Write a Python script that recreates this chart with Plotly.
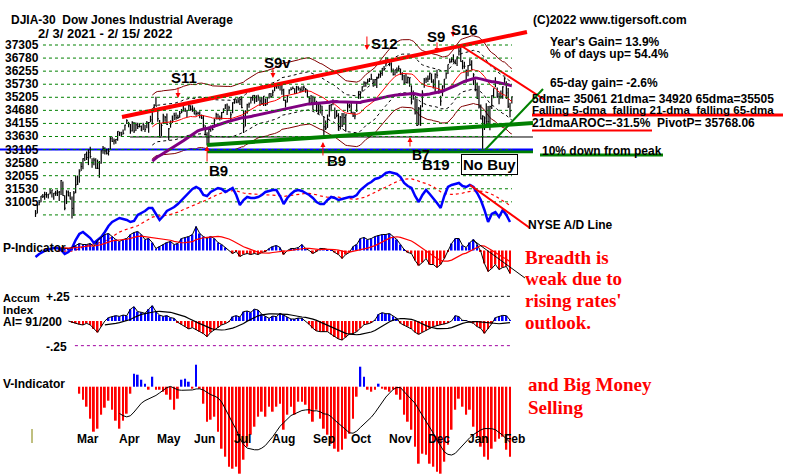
import pandas as pd
import plotly.graph_objects as go

W, H = 800, 475
SANS = "Liberation Sans"
SERIF = "Liberation Serif"

# ---- DJIA daily bars, 2/3/2021 .. 2/15/2022 (trading-day order) ----
CLOSE = [
    30724, 31056, 31148, 31386, 31376, 31438, 31431, 31458, 31523, 31613, 31494, 31494, 31522, 31537, 31962, 31402, 30932,
    31535, 31391, 31270, 30924, 31496, 31802, 31833, 32297, 32486, 32779, 32953, 32826, 33015, 32862, 32628, 32731, 32423, 32420, 32619, 33072, 33171, 33067, 32982,
    33054, 33527, 33430, 33446, 33503, 33801, 33746, 33677, 33730, 34036, 34200, 34078, 33821, 34137, 33815, 34043, 33982, 33984, 33820, 34060, 33875,
    34113, 34133, 34230, 34548, 34778, 34743, 34270, 33587, 34021, 34382, 34327, 34060, 33896, 34084, 34208, 34394, 34312, 34323, 34465, 34529,
    34575, 34600, 34577, 34756, 34630, 34600, 34447, 34466, 34480, 34394, 34299, 34033, 33823, 33290, 33876, 33945, 33874, 34196, 34433, 34283, 34292, 34502,
    34633, 34786, 34577, 34681, 34421, 34870, 34996, 34889, 34933, 34987, 34688, 33962, 34512, 34798, 34823, 35062, 35144, 35058, 34930, 35085, 34935,
    34838, 35117, 34793, 35065, 35209, 35102, 35265, 35484, 35500, 35515, 35625, 35343, 34961, 34894, 35120, 35336, 35367, 35406, 35214, 35456, 35400, 35361,
    35313, 35444, 35369, 35100, 35031, 34879, 34607, 34870, 34578, 34814, 34751, 34584, 33970, 33919, 34258, 34765, 34798, 34870, 34300, 34390, 33844,
    34326, 34002, 34315, 34417, 34755, 34746, 34496, 34378, 34377, 34912, 35295, 35259, 35458, 35609, 35603, 35677, 35741, 35757, 35491, 35731, 35820,
    35913, 36053, 36158, 36124, 36328, 36432, 36320, 36080, 35921, 36100, 36087, 36143, 35931, 35871, 35602, 35620, 35814, 35805, 34899, 35136, 34484,
    34022, 34640, 34580, 35227, 35719, 35754, 35754, 35971, 35650, 35545, 35927, 35898, 35365, 34932, 35493, 35754, 35950, 36302, 36398, 36488, 36398, 36338,
    36585, 36800, 36408, 36236, 36232, 36068, 36252, 36290, 36114, 35912, 35369, 35029, 34715, 34265, 34365, 34298, 34168, 34161, 34725, 35132,
    35405, 35629, 35112, 35089, 35091, 35463, 35768, 35241, 34738, 34566, 35089,
]
HIGH = [
    30861, 31060, 31233, 31388, 31466, 31546, 31531, 31466, 31644, 31614, 31497, 31582, 31621, 31573, 31981, 31930, 31414,
    31600, 31590, 31534, 31368, 31572, 32146, 32150, 32390, 32661, 32793, 32960, 33048, 33127, 33227, 32800, 32817, 32794, 32746, 32694, 33098, 33259, 33207, 33150,
    33167, 33617, 33599, 33532, 33513, 33810, 33792, 33785, 33874, 34050, 34256, 34158, 34073, 34178, 34152, 34132, 34123, 34106, 34024, 34127, 34043,
    34189, 34149, 34386, 34556, 34811, 35091, 34579, 34222, 34102, 34461, 34374, 34470, 33923, 34210, 34392, 34498, 34508, 34418, 34559, 34637,
    34849, 34679, 34603, 34790, 34772, 34772, 34693, 34582, 34537, 34549, 34427, 34399, 34033, 33770, 33934, 34021, 34044, 34282, 34492, 34459, 34394, 34528,
    34659, 34812, 34840, 34758, 34531, 34893, 34997, 35001, 35069, 35059, 35092, 34567, 34591, 34834, 34876, 35097, 35145, 35163, 35150, 35172, 35045,
    35087, 35124, 35029, 35072, 35215, 35237, 35358, 35528, 35509, 35516, 35631, 35535, 35391, 34987, 35162, 35375, 35445, 35474, 35412, 35500, 35491, 35438,
    35486, 35515, 35422, 35363, 35117, 35161, 35132, 35090, 34943, 34850, 34812, 34761, 34339, 34204, 34431, 34793, 34826, 35001, 34697, 34600, 34479,
    34374, 34491, 34486, 34440, 34930, 34831, 34862, 34535, 34520, 34929, 35302, 35303, 35488, 35669, 35654, 35765, 35794, 35952, 35758, 35758, 35839,
    35959, 36064, 36165, 36244, 36566, 36565, 36470, 36384, 36147, 36106, 36186, 36263, 36150, 36013, 35915, 35943, 35852, 35817, 35520, 35323, 35071,
    35032, 34707, 34781, 35333, 35795, 35809, 35887, 35997, 35960, 35751, 35975, 36106, 35709, 35136, 35520, 35758, 36005, 36303, 36527, 36571, 36679, 36484,
    36595, 36934, 36953, 36464, 36403, 36111, 36277, 36510, 36462, 35977, 35737, 35629, 35503, 34804, 34406, 34361, 34852, 34748, 34761, 35153,
    35405, 35825, 35439, 35240, 35323, 35489, 35828, 35670, 35417, 34867, 35102,
]
LOW = [
    30604, 30736, 31041, 31155, 31313, 31244, 31320, 31291, 31453, 31330, 31250, 31392, 31391, 31199, 31428, 31396, 30853,
    31086, 31373, 31257, 30547, 30643, 31493, 31800, 31883, 32317, 32382, 32697, 32733, 32541, 32783, 32442, 32538, 32406, 32394, 32071, 32592, 32968, 32934, 32939,
    32900, 33131, 33404, 33311, 33340, 33453, 33630, 33606, 33685, 33837, 34073, 33953, 33709, 33800, 33737, 33818, 33885, 33946, 33817, 33854, 33780,
    33915, 33747, 34145, 34058, 34561, 34735, 34156, 33579, 33624, 34083, 34156, 34040, 33473, 33938, 34118, 34229, 34238, 34262, 34311, 34476,
    34539, 34520, 34324, 34582, 34572, 34530, 34445, 34384, 34424, 34288, 34265, 33877, 33649, 33272, 33307, 33786, 33839, 33952, 34241, 34244, 34203, 34246,
    34485, 34632, 34415, 34565, 34143, 34480, 34831, 34850, 34855, 34786, 34664, 33741, 33981, 34457, 34683, 34842, 34942, 34837, 34902, 34948, 34748,
    34800, 34753, 34749, 34793, 35027, 35055, 35108, 35299, 35389, 35397, 35326, 35165, 34946, 34690, 34877, 35183, 35334, 35376, 35197, 35202, 35327, 35260,
    35276, 35319, 35243, 35077, 34856, 34873, 34604, 34795, 34523, 34450, 34473, 34390, 33614, 33849, 33929, 34350, 34551, 34778, 34274, 34332, 33824,
    33871, 33960, 34041, 33785, 34517, 34663, 34480, 34336, 34254, 34520, 35016, 35024, 35292, 35454, 35467, 35580, 35646, 35730, 35480, 35496, 35425,
    35776, 35804, 35883, 36066, 36223, 36373, 36236, 35996, 35887, 35888, 35975, 36060, 35917, 35707, 35555, 35594, 35588, 35464, 34807, 34982, 34432,
    34001, 34034, 34006, 34699, 35433, 35608, 35648, 35728, 35616, 35400, 35248, 35787, 35209, 34755, 35116, 35391, 35770, 35946, 36342, 36376, 36379, 36308,
    36246, 36636, 36406, 36121, 36136, 35620, 35863, 36243, 36103, 35531, 35301, 35010, 34653, 34253, 33150, 33852, 33994, 34052, 33839, 34640,
    35040, 35448, 35043, 34816, 35017, 35024, 35563, 35012, 34672, 34329, 34843,
]

MONTHS = ["Mar", "Apr", "May", "Jun", "Jul", "Aug", "Sep", "Oct", "Nov", "Dec", "Jan", "Feb"]
MONTH_FIRST_DAY = [17, 40, 61, 81, 103, 124, 146, 167, 188, 209, 231, 251]

SCALE_LABELS = [37305, 36780, 36255, 35730, 35205, 34680, 34155, 33630, 33105, 32580, 32055, 31530, 31005]
SCALE_GRID = SCALE_LABELS + [30480]

# ---- indicators, sampled every 2nd trading day ----
AD_START = 0
AD_LINE = [3, 6, 8, 10, 11, 12, 12, 10, 6, 8, 12, 20, 26, 28, 25, 22, 17, 20, 23, 28,
           34, 38, 40, 42, 41, 40, 38, 39, 45, 47, 49, 52, 52, 46, 40, 44, 49, 51, 53, 56,
           60, 63, 67, 71, 73, 71, 65, 64, 68, 70, 72, 71, 68, 70, 72, 65, 55, 60, 63, 62,
           62, 63, 65, 68, 69, 70, 70, 64, 56, 62, 66, 69, 70, 69, 67, 65, 62, 58, 56, 56,
           60, 63, 62, 60, 61, 62, 63, 63, 65, 70, 73, 76, 78, 81, 82, 84, 87, 88, 87, 86,
           83, 77, 74, 72, 64, 58, 65, 70, 66, 62, 57, 52, 64, 73, 75, 76, 77, 74, 73, 75,
           73, 67, 60, 50, 38, 46, 48, 43, 50, 45, 38]

P_START = 14
P_IND = [3, 2, 2, 3, 5, 7, 6, 6, 7, 4, 10, 13, 16, 17, 14, 11, 9, 11, 12, 16,
         18, 19, 16, 11, 12, 8, 2, 4, 6, 8, 9, 6, 7, 12, 13, 14, 16, 24, 17, 14,
         12, 14, 12, 8, 6, 3, 0, -3, -1, -6, -4, -3, -4, -3, -4, -2, -1, 2, 4, 5,
         3, -4, 0, 2, 2, 3, 6, 2, 0, -3, -1, 2, 2, 1, 1, -2, -4, -8, -4, -2,
         4, 6, 12, 13, 11, 12, 14, 15, 16, 16, 17, 14, 11, 6, 1, -2, -3, -10, -15, -12,
         -8, -14, -14, -17, -14, -8, -1, 7, 12, 12, 5, 3, 8, 11, 6, -1, -13, -21, -18, -14,
         -19, -17, -16, -23]

AI_START = 18
ACCUM = [0, -0.014, -0.024, -0.034, -0.04, -0.024, -0.04, -0.08, -0.115, -0.057,
         0, 0.034, 0.044, 0.054, 0.047, 0.06, 0.054, 0.12, 0.145, 0.095,
         0.088, 0.078, 0.12, 0.155, 0.095, 0.06, 0.047, 0.054, 0.034, 0.027,
         -0.014, -0.034, -0.057, -0.08, -0.068, -0.091, -0.108, -0.128, -0.159, -0.115,
         -0.091, -0.068, -0.04, -0.027, -0.007, 0.044, 0.054, 0.04, 0.095, 0.101,
         0.088, 0.12, 0.111, 0.068, 0.047, 0.027, 0.05, 0.044, 0.078, 0.06,
         0.04, 0.02, 0.02, 0.03, 0.027, 0, -0.034, -0.074, -0.101, -0.108,
         -0.111, -0.108, -0.135, -0.162, -0.182, -0.193, -0.166, -0.132, -0.128, -0.108,
         -0.074, -0.037, -0.03, -0.017, 0.01, 0.068, 0.084, 0.074, 0.074, 0.047,
         0.027, -0.024, -0.044, -0.057, -0.081, -0.115, -0.135, -0.115, -0.095, -0.074,
         -0.057, -0.047, -0.04, -0.034, -0.02, 0, 0.054, 0.044, 0.007, 0.003,
         -0.007, -0.024, -0.057, -0.074, -0.125, -0.081, -0.027, 0.034, 0.047, 0.057,
         0.054, 0.01]

V_START = 24
V_IND = [-7, -13, -20, -32, -45, -42, -28, -21, -14, -23, -34, -42, -34, -27, -7, 13, 12, 7, 3, -3,
         10, -3, -3, -5, -8, -13, -23, -12, 7, 8, 5, -2, 22, -2, -17, -35, -33, -30, -45, -62,
         -70, -80, -82, -80, -87, -73, -60, -48, -40, -30, -25, -30, -20, -25, -20, -17, -43, -28, -20, -28,
         -15, -15, -18, -27, -35, -23, -32, -42, -48, -57, -62, -65, -63, -52, -47, -32, -10, 20, 10, -3,
         -5, -3, 3, -2, -3, -5, -3, -8, -13, -28, -35, -43, -60, -77, -67, -68, -77, -80, -85, -87,
         -75, -58, -43, -23, -12, -20, -28, -23, -40, -50, -60, -70, -73, -62, -55, -52, -50, -63, -70]

# hand-drawn trend lines (trading day, value)
UPPER_TREND = ([47.4, 269.3], [34338, 37513])
DOWN_TREND = ([232.6, 279.2], [37027, 34973])
GREEN_STEEP = ([246.3, 278.1], [33105, 35384])
GREEN_RISE = ([94.0, 272.6], [33292, 34114])
GREEN_FLAT = ([94.0, 272.6], [33060, 33060])
BLACK_FLAT = ([51.8, 272.6], [33591, 33591])
AD_TREND = ([238.1, 270.9], [75, 32])
P_TREND = ([239.7, 268.2], [10.5, -27.5])

# ---------------------------------------------------------------------
N = len(CLOSE)
close = pd.Series(CLOSE, dtype=float)
ma21 = close.rolling(21).mean()
ma65 = close.rolling(65).mean()
SHOW_FROM = 64
days_ma = list(range(SHOW_FROM, N))


def sampled(start, vals):
    return list(range(start, start + 2 * len(vals), 2))


fig = go.Figure()


def line(x, y, color, width=1, yaxis="y", dash=None):
    fig.add_trace(go.Scatter(x=x, y=y, mode="lines", yaxis=yaxis, hoverinfo="skip",
                             line=dict(color=color, width=width, dash=dash)))


# price-scale grid (TigerSoft's own label scale)
gx, gy = [], []
for v in SCALE_GRID:
    gx += [4.1, 261.1, None]
    gy += [v, v, None]
line(gx, gy, "#008000", 1, "y2", "dot")

# bands around the 21-dma
line(days_ma, list(ma21[SHOW_FROM:] * 1.035), "#800000", 1)
line(days_ma, list(ma21[SHOW_FROM:] * 0.965), "#800000", 1)
line(days_ma, list(ma21[SHOW_FROM:] * 1.02), "black", 1, dash="dot")
line(days_ma, list(ma21[SHOW_FROM:] * 0.98), "black", 1, dash="dot")

# 10% down from peak
peak = max(CLOSE)
line(*GREEN_FLAT, "#008000", 4)
line([-19.5, 272.6], [peak * 0.9, peak * 0.9], "#0000FF", 2)
line(*BLACK_FLAT, "black", 1)

# price bars
bx, by, cx, cy = [], [], [], []
for i in range(N):
    bx += [i, i, None]
    by += [LOW[i], HIGH[i], None]
    cx += [i, i + 0.6, None]
    cy += [CLOSE[i], CLOSE[i], None]
line(bx, by, "black", 1.2)
line(cx, cy, "black", 1)

line(days_ma, list(ma21[SHOW_FROM:]), "#FF0000", 1)
line(days_ma, list(ma65[SHOW_FROM:]), "#800080", 3)

line(*UPPER_TREND, "#FF0000", 4)
line(*DOWN_TREND, "#FF0000", 2)
line(*GREEN_RISE, "#008000", 4)
line(*GREEN_STEEP, "#008000", 2)

# NYSE A/D line
ad_x = sampled(AD_START, AD_LINE)
ad_ma = pd.Series(AD_LINE, dtype=float).rolling(13, min_periods=7).mean()
line(ad_x, list(ad_ma), "#FF0000", 1.2, "y3", "dot")
line(ad_x, AD_LINE, "#0000FF", 2.5, "y3")
line(*AD_TREND, "#FF0000", 2, "y3")


def histo(start, vals, yaxis):
    xs = sampled(start, vals)
    fig.add_trace(go.Bar(x=xs, y=vals, width=1.0, yaxis=yaxis, hoverinfo="skip",
                         marker=dict(color=["#0000FF" if v > 0 else "#FF0000" for v in vals],
                                     line=dict(width=0))))
    return xs


# P-Indicator
p_x = histo(P_START, P_IND, "y4")
line(p_x, P_IND, "black", 1, "y4")
line(p_x, list(pd.Series(P_IND, dtype=float).rolling(11, min_periods=1).mean()), "#FF0000", 1.2, "y4")
line(*P_TREND, "black", 1, "y4")

# Accumulation Index
line([21.6, 260], [0.25, 0.25], "black", 1, "y5", "dot")
line([21.6, 260], [-0.25, -0.25], "#A000A0", 1, "y5", "dot")
a_x = histo(AI_START, ACCUM, "y5")
line(a_x, ACCUM, "black", 1, "y5")
line(a_x, list(pd.Series(ACCUM).rolling(11, min_periods=11).mean()), "black", 1.2, "y5")

# V-Indicator
v_x = histo(V_START, V_IND, "y6")
line(v_x, list(pd.Series(V_IND, dtype=float).rolling(12, min_periods=12).mean()), "black", 1, "y6")

# ---- text ----
ann = []


def txt(x, y, s, size=12, color="black", family=SANS, xanchor="left", **kw):
    ann.append(dict(x=x / W, y=1 - y / H, xref="paper", yref="paper", text=s, showarrow=False,
                    xanchor=xanchor, yanchor="middle", borderpad=0,
                    font=dict(family=family, size=size, color=color, weight="bold"), **kw))


for v in SCALE_LABELS:
    ann.append(dict(x=41 / W, xref="paper", y=v, yref="y2", text=str(v), showarrow=False,
                    xanchor="right", yanchor="middle",
                    font=dict(family=SANS, size=12, color="black", weight="bold")))

for m, d in zip(MONTHS, MONTH_FIRST_DAY):
    ann.append(dict(x=d + 4.7, xref="x", y=1 - 439 / H, yref="paper", text=m, showarrow=False,
                    xanchor="left", yanchor="middle",
                    font=dict(family=SANS, size=12, color="black", weight="bold")))

txt(10, 20, "DJIA-30  Dow Jones Industrial Average")
txt(37, 33, "2/ 3/ 2021 - 2/ 15/ 2022", 13)
txt(532, 20, "(C)2022 www.tigersoft.com")
txt(549, 42, "Year's Gain= 13.9%")
txt(549, 54, "% of days up= 54.4%")
txt(549, 83, "65-day gain= -2.6%")
txt(531, 98.5, "5dma= 35061 21dma= 34920 65dma=35505")
txt(531, 110, "Falling 5-dma &nbsp;falling 21-dma &nbsp;falling 65-dma", 11.5)
txt(531, 123, "21dmaAROC=-31.5% &nbsp;PivotP= 35768.06")
txt(541, 151, "10% down from peak")
txt(527, 225, "NYSE A/D Line")
for i, s in enumerate(["Breadth is", "weak due to", "rising rates'", "outlook."]):
    txt(524, 257 + 21.7 * i, s, 19, "#FF0000", SERIF)
txt(527, 384, "and Big Money", 19, "#FF0000", SERIF)
txt(527, 407, "Selling", 19, "#FF0000", SERIF)

txt(2, 248, "P-Indicator")
txt(2, 298, "Accum", 11)
txt(2, 309.5, "Index", 11.5)
txt(2, 321.5, "AI= 91/200")
txt(45, 297, "+.25")
txt(45, 347, "-.25")
txt(2, 384, "V-Indicator")


def signal(name, day, price, lx, ly, tail, size=15):
    ann.append(dict(x=day, y=price, xref="x", yref="y", text="", showarrow=True, ax=0, ay=tail,
                    arrowhead=2, arrowsize=1, arrowwidth=1, arrowcolor="#FF0000"))
    ann.append(dict(x=lx, y=ly, xref="x", yref="y", text=name, showarrow=False,
                    xanchor="center", yanchor="middle", borderpad=0,
                    font=dict(family=SANS, size=size, color="black", weight="bold")))


signal("S11", 78.1, 35047, 81.1, 35832, -12)
signal("S9v", 130.1, 35795, 132.6, 36392, -12)
signal("S12", 181.6, 36841, 191.2, 37102, -15)
signal("S9", 220.0, 36729, 219.7, 37363, -12)
signal("S16", 228.8, 37326, 235.1, 37588, -9)
signal("B9", 94.0, 33254, 100.3, 32358, 17)
signal("B9", 157.5, 33404, 164.9, 32731, 15)
signal("B7", 205.2, 33591, 211.5, 32920, 11, 14)
ann.append(dict(x=219.6, y=32560, xref="x", yref="y", text="B19", showarrow=False, borderpad=0,
                font=dict(family=SANS, size=15, color="black", weight="bold")))
ann.append(dict(x=249.0, y=32582, xref="x", yref="y", text="No Buy", showarrow=False,
                bordercolor="black", borderwidth=1, borderpad=1, bgcolor="white",
                font=dict(family=SANS, size=15, color="black", weight="bold")))

shapes = [
    dict(type="line", xref="paper", yref="paper", x0=532 / W, x1=783 / W, y0=1 - 115 / H, y1=1 - 115 / H,
         line=dict(color="#FF0000", width=3)),
    dict(type="line", xref="paper", yref="paper", x0=532 / W, x1=652 / W, y0=1 - 130.5 / H, y1=1 - 130.5 / H,
         line=dict(color="#FF0000", width=2)),
    dict(type="line", xref="paper", yref="paper", x0=540 / W, x1=663 / W, y0=1 - 155 / H, y1=1 - 155 / H,
         line=dict(color="#008000", width=3)),
    dict(type="line", xref="paper", yref="paper", x0=32 / W, x1=32 / W, y0=1 - 429 / H, y1=1 - 443 / H,
         line=dict(color="#808000", width=1)),
]


def ax(lo, hi, over=True):
    d = dict(range=[lo, hi], visible=False, fixedrange=True)
    if over:
        d["overlaying"] = "y"
    return d


fig.update_layout(
    width=W, height=H, margin=dict(l=0, r=0, t=0, b=0),
    paper_bgcolor="white", plot_bgcolor="white", showlegend=False, barmode="overlay",
    xaxis=dict(range=[-35.5 / 1.825, (W - 35.5) / 1.825], visible=False, fixedrange=True),
    yaxis=ax(20964.5, 38708.3, over=False),      # price data
    yaxis2=ax(20032, 39113),                      # printed price scale
    yaxis3=ax(-215, 260),                         # NYSE A/D line
    yaxis4=ax(-224.5, 250.5),                     # P-Indicator
    yaxis5=ax(-1.5603, 3.2523),                   # Accumulation Index
    yaxis6=ax(-88.3, 386.7),                      # V-Indicator
    annotations=ann, shapes=shapes,
)

# the page's default 8px body margin would shift the 800x475 figure
fig.write_html("out.html", config={"displayModeBar": False},
               post_script="document.body.style.margin='0px';")
